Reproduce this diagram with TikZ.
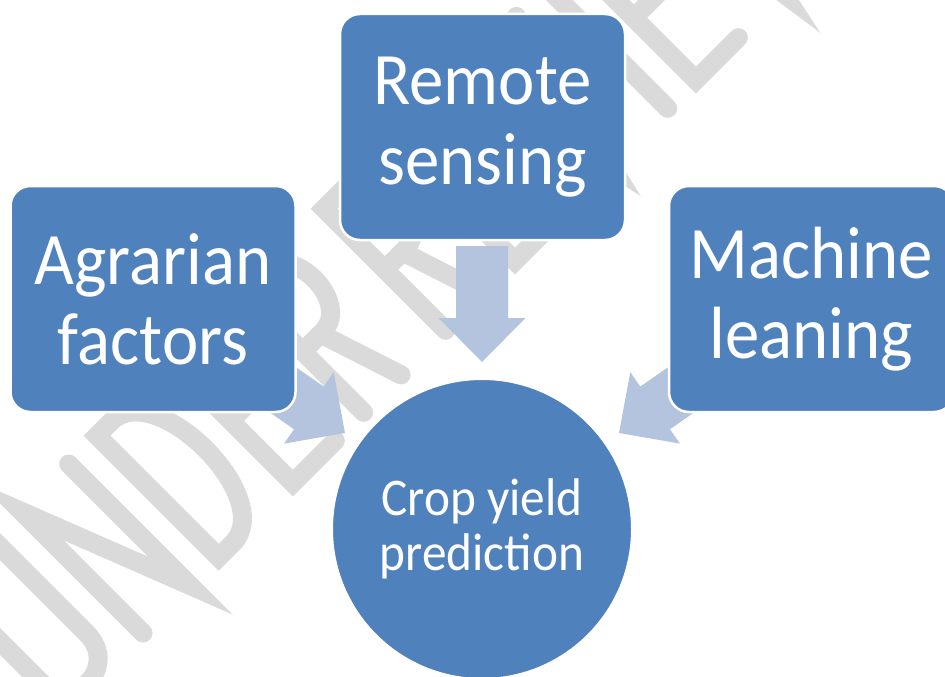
\documentclass[tikz,border=0pt]{standalone}
\usepackage{fontspec}
\setmainfont{Carlito}[FakeStretch=0.93]
\definecolor{boxblue}{HTML}{4F81BD}
\definecolor{arrowblue}{HTML}{B4C3DE}
\definecolor{wmgray}{HTML}{DADADA}
\begin{document}
\begin{tikzpicture}[x=1pt,y=-1pt,
  blockbox/.style={rectangle, rounded corners=20pt, fill=boxblue, draw=white,
    line width=2.5pt, minimum width=285pt, minimum height=226pt, text=white,
    align=center, font=\fontsize{74}{80}\selectfont, inner sep=0pt},
  goalcircle/.style={circle, fill=boxblue, draw=white, line width=2pt,
    minimum size=300pt, text=white, align=center,
    font=\fontsize{53}{55}\selectfont, inner sep=0pt},
  blockarrow/.style={fill=arrowblue, draw=none},
  wmstroke/.style={draw=wmgray, line width=19pt, line cap=round, line join=miter}
]
\useasboundingbox (0,0) rectangle (945,677);
% watermark "UNDER REVIEW", drawn as single strokes along a 45 degree baseline
\begin{scope}[shift={(143,633)}, rotate=45, x=1pt, y=1pt]
  \draw[wmstroke] (-107,172) -- (-107,40) .. controls (-107,-8) and (-40,-8) .. (-40,40) -- (-40,172);
  \draw[wmstroke] (0,0) -- (0,172) -- (67,0) -- (67,172);
  \draw[wmstroke] (107,0) -- (107,172) -- (127,172) .. controls (190,172) and (190,0) .. (127,0) -- cycle;
  \draw[wmstroke] (272,172) -- (212,172) -- (212,0) -- (272,0) (212,88) -- (265,88);
  \draw[wmstroke] (312,0) -- (312,172) -- (340,172) .. controls (382,172) and (382,86) .. (340,86) -- (312,86) (337,86) -- (365,0);
  \draw[wmstroke] (428,0) -- (428,172) -- (456,172) .. controls (498,172) and (498,86) .. (456,86) -- (428,86) (453,86) -- (481,0);
  \draw[wmstroke] (586,172) -- (526,172) -- (526,0) -- (586,0) (526,88) -- (579,88);
  \draw[wmstroke] (622,172) -- (661,0) -- (700,172);
  \draw[wmstroke] (742,0) -- (742,172);
  \draw[wmstroke] (842,172) -- (782,172) -- (782,0) -- (842,0) (782,88) -- (835,88);
  \draw[wmstroke] (880,172) -- (905,0) -- (930,120) -- (955,0) -- (980,172);
\end{scope}
\coordinate (tipT) at (482,362);
\coordinate (tipL) at (345,433);
\coordinate (tipR) at (619,433);
\fill[blockarrow, shift={(tipT)}, rotate=-90] (0,0) -- (-44,43.5) -- (-44,26) -- (-116,26) -- (-116,-26) -- (-44,-26) -- (-44,-43.5) -- cycle;
\fill[blockarrow, shift={(tipL)}, rotate=-34.8] (0,0) -- (-44,43.5) -- (-44,26) -- (-116,26) -- (-116,-26) -- (-44,-26) -- (-44,-43.5) -- cycle;
\fill[blockarrow, shift={(tipR)}, rotate=-145.2] (0,0) -- (-44,43.5) -- (-44,26) -- (-116,26) -- (-116,-26) -- (-44,-26) -- (-44,-43.5) -- cycle;
\node[blockbox] (remote) at (482.5,127) {Remote\\sensing};
\node[blockbox] (agrar) at (153,299) {Agrarian\\factors};
\node[blockbox] (mach) at (811.5,299) {Machine\\leaning};
\node[goalcircle] (crop) at (482,529) {Crop yield\\prediction};
\end{tikzpicture}
\end{document}
